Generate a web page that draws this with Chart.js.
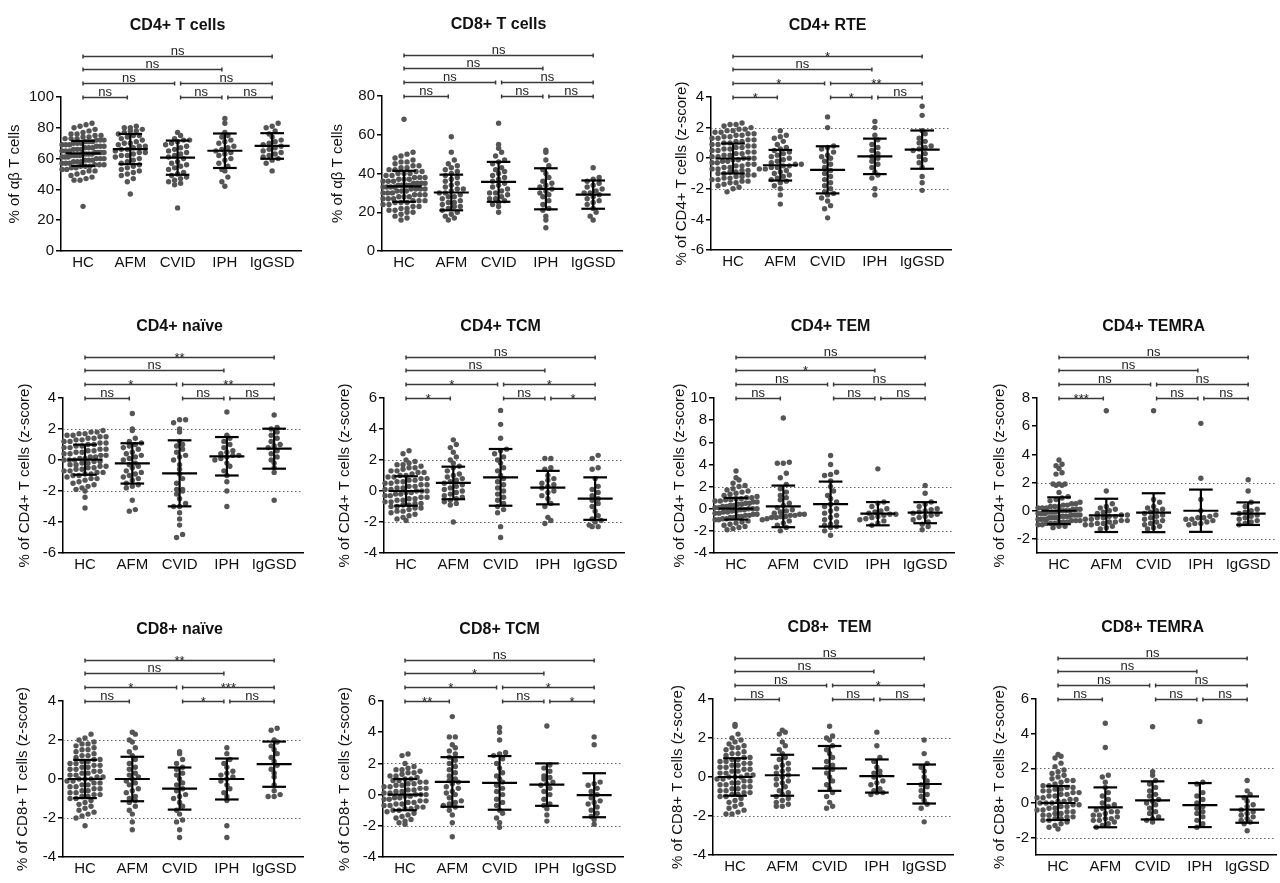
<!DOCTYPE html>
<html>
<head>
<meta charset="utf-8">
<script src="https://cdn.jsdelivr.net/npm/chart.js@4.4.1/dist/chart.umd.min.js"></script>
<style>
html, body { margin: 0; padding: 0; background: #fff; }
#fig { position: relative; width: 1280px; height: 883px; overflow: hidden; background: #fff; }
#fig canvas { position: absolute; }
</style>
</head>
<body>
<div id="fig"></div>
<script>
// groups and comparison brackets (same layout in every panel)
const GROUPS = ['HC', 'AFM', 'CVID', 'IPH', 'IgGSD'];
const PAIRS = [[0, 4], [0, 3], [0, 2], [2, 4], [0, 1], [2, 3], [3, 4]];
const PAIR_LEVEL = [0, 1, 2, 2, 3, 3, 3];
const ZREF = [-2, 2];

// ---- CD4+ T cells (% of ab T cells)
const cd4T_ticks = [0, 20, 40, 60, 80, 100];
const cd4T_HC = [83,82,81,80,79,78,77,76,76,75,75,74,74,73,73,73,72,72,72,71,71,71,70,70,70,69,69,69,68,68,68,67,67,67,66,66,66,65,65,65,64,64,64,64,63,63,63,63,62,62,62,62,61,61,61,60,60,60,59,59,59,58,58,58,57,57,57,56,56,56,55,55,55,54,54,53,53,52,52,51,50,49,48,47,46,46,29];
const cd4T_AFM = [81,80,80,79,78,78,77,76,75,75,74,73,72,71,70,70,69,68,68,67,66,66,65,64,64,63,62,62,61,60,59,58,57,56,55,54,53,52,51,50,49,47,45,37];
const cd4T_CVID = [77,75,73,72,72,71,70,69,68,67,66,65,64,63,62,61,60,58,57,56,55,54,53,51,50,49,48,47,46,45,44,43,28];
const cd4T_IPH = [86,83,77,75,74,72,71,70,68,67,66,65,64,63,62,60,59,57,55,53,52,48,45,42];
const cd4T_IgGSD = [83,81,80,78,76,74,72,71,70,69,68,67,66,65,64,63,62,61,60,59,57,52];
const cd4T_mean = [63.4, 66.2, 60.6, 65.1, 68.2];
const cd4T_sd = [8.1, 9.8, 11.1, 11.2, 8.3];
const cd4T_sig = ['ns', 'ns', 'ns', 'ns', 'ns', 'ns', 'ns'];

// ---- CD8+ T cells (% of ab T cells)
const cd8T_ticks = [0, 20, 40, 60, 80];
const cd8T_HC = [68,51,50,49,48,47,46,46,45,44,44,43,43,42,42,41,41,40,40,40,39,39,38,38,38,37,37,37,36,36,36,35,35,35,35,34,34,34,34,33,33,33,33,32,32,32,32,31,31,31,30,30,30,29,29,29,28,28,28,27,27,27,26,26,26,25,25,25,24,24,23,23,22,22,21,21,20,20,19,18,17,16];
const cd8T_AFM = [59,51,47,45,44,43,42,41,40,39,38,37,36,35,34,33,32,32,31,30,30,29,28,28,27,26,25,25,24,23,23,22,21,20,19,18,17,16];
const cd8T_CVID = [66,55,53,51,49,47,46,45,43,42,41,40,39,38,37,36,35,34,33,32,31,30,30,29,28,27,27,26,25,24,23,20];
const cd8T_IPH = [52,51,47,44,42,40,38,36,35,34,33,32,31,30,29,28,26,24,22,21,18,16,12];
const cd8T_IgGSD = [43,38,37,36,35,34,33,32,31,30,30,29,28,27,26,25,24,22,20,18,16];
const cd8T_mean = [33.4, 30.2, 35.7, 32.1, 29.1];
const cd8T_sd = [8.0, 9.2, 10.3, 10.6, 7.3];
const cd8T_sig = ['ns', 'ns', 'ns', 'ns', 'ns', 'ns', 'ns'];

// ---- CD4+ RTE (z-score)
const rte_ticks = [-6, -4, -2, 0, 2, 4];
const rte_HC = [2.3,2.2,2.2,2.1,2.0,1.9,1.9,1.8,1.8,1.7,1.7,1.6,1.6,1.5,1.5,1.4,1.4,1.3,1.3,1.2,1.2,1.1,1.1,1.0,1.0,0.9,0.9,0.8,0.8,0.7,0.7,0.6,0.6,0.5,0.5,0.4,0.4,0.3,0.3,0.2,0.2,0.1,0.1,0.0,0.0,0.0,-0.1,-0.1,-0.2,-0.2,-0.3,-0.3,-0.4,-0.4,-0.5,-0.5,-0.6,-0.6,-0.7,-0.7,-0.8,-0.8,-0.9,-0.9,-1.0,-1.0,-1.1,-1.1,-1.2,-1.2,-1.3,-1.3,-1.4,-1.4,-1.5,-1.5,-1.6,-1.6,-1.7,-1.8,-1.9,-2.0,-2.2];
const rte_AFM = [1.8,1.5,1.4,1.3,1.1,0.9,0.7,0.6,0.5,0.4,0.3,0.2,0.1,0.0,-0.1,-0.2,-0.3,-0.4,-0.4,-0.5,-0.5,-0.6,-0.6,-0.7,-0.7,-0.8,-0.9,-1.0,-1.1,-1.2,-1.3,-1.4,-1.5,-1.6,-1.8,-2.0,-2.4,-3.0];
const rte_CVID = [2.7,2.0,0.8,0.7,0.6,0.4,0.2,0.1,0.0,-0.2,-0.4,-0.6,-0.8,-1.0,-1.2,-1.4,-1.6,-1.8,-2.0,-2.2,-2.3,-2.4,-2.6,-2.8,-3.1,-3.3,-3.9];
const rte_IPH = [2.4,2.0,1.5,1.2,0.9,0.7,0.5,0.3,0.1,0.0,-0.2,-0.4,-0.6,-0.9,-1.1,-1.3,-2.0,-2.4];
const rte_IgGSD = [3.4,2.8,1.8,1.6,1.3,1.1,1.0,0.8,0.7,0.6,0.5,0.3,0.1,-0.1,-0.3,-0.6,-1.2,-1.6,-2.1];
const rte_mean = [-0.02, -0.46, -0.76, 0.12, 0.56];
const rte_sd = [0.98, 1.0, 1.54, 1.16, 1.25];
const rte_sig = ['*', 'ns', '*', '**', '*', '*', 'ns'];

// ---- CD4+ naive (z-score)
const cd4N_ticks = [-6, -4, -2, 0, 2, 4];
const cd4N_HC = [1.9,1.8,1.8,1.7,1.7,1.6,1.6,1.5,1.5,1.4,1.4,1.3,1.3,1.2,1.2,1.1,1.1,1.0,1.0,0.9,0.9,0.8,0.8,0.7,0.7,0.6,0.6,0.5,0.5,0.4,0.4,0.3,0.3,0.2,0.2,0.1,0.1,0.0,0.0,0.0,-0.1,-0.1,-0.2,-0.2,-0.3,-0.3,-0.4,-0.4,-0.5,-0.5,-0.6,-0.6,-0.7,-0.7,-0.8,-0.8,-0.9,-0.9,-1.0,-1.0,-1.1,-1.2,-1.2,-1.3,-1.4,-1.5,-1.6,-1.7,-1.8,-1.9,-2.0,-2.4,-3.1];
const cd4N_AFM = [3.0,2.0,1.9,1.4,1.2,1.1,1.0,0.9,0.8,0.7,0.5,0.4,0.3,0.2,0.1,0.0,-0.2,-0.3,-0.4,-0.5,-0.7,-0.8,-0.9,-1.0,-1.1,-1.2,-1.3,-1.5,-1.6,-1.7,-1.8,-2.6,-3.2,-3.3];
const cd4N_CVID = [2.6,2.6,2.4,2.0,1.8,1.2,1.0,0.9,0.7,0.5,0.3,0.2,0.0,-0.3,-0.6,-0.9,-1.2,-1.5,-1.9,-1.9,-2.0,-2.2,-2.5,-2.8,-3.0,-3.0,-3.4,-3.8,-4.2,-4.8,-5.0];
const cd4N_IPH = [3.1,1.6,1.4,1.2,1.0,0.8,0.6,0.5,0.4,0.3,0.3,0.2,0.1,0.0,-0.2,-0.4,-0.7,-1.0,-1.4,-2.0,-3.0];
const cd4N_IgGSD = [2.9,2.1,2.0,1.8,1.6,1.4,1.2,1.0,0.9,0.8,0.6,0.4,0.2,0.0,-0.2,-0.5,-0.8,-2.6];
const cd4N_mean = [0.02, -0.22, -0.86, 0.24, 0.73];
const cd4N_sd = [0.97, 1.3, 2.13, 1.24, 1.29];
const cd4N_sig = ['**', 'ns', '*', '**', 'ns', 'ns', 'ns'];

// ---- CD4+ TCM (z-score)
const cd4CM_ticks = [-4, -2, 0, 2, 4, 6];
const cd4CM_HC = [2.6,2.4,2.0,1.9,1.8,1.7,1.7,1.6,1.5,1.5,1.4,1.3,1.3,1.2,1.2,1.1,1.0,1.0,0.9,0.9,0.8,0.8,0.7,0.7,0.6,0.6,0.5,0.5,0.4,0.4,0.3,0.3,0.2,0.2,0.1,0.1,0.0,0.0,0.0,-0.1,-0.1,-0.2,-0.2,-0.3,-0.3,-0.4,-0.4,-0.5,-0.5,-0.6,-0.6,-0.7,-0.7,-0.8,-0.8,-0.9,-0.9,-1.0,-1.0,-1.1,-1.1,-1.2,-1.3,-1.3,-1.4,-1.5,-1.6,-1.7,-1.8,-1.9];
const cd4CM_AFM = [3.3,3.0,2.8,2.5,2.2,2.0,1.8,1.6,1.5,1.3,1.1,1.0,0.9,0.8,0.7,0.6,0.5,0.4,0.3,0.2,0.1,0.0,-0.1,-0.2,-0.3,-0.4,-0.5,-0.6,-0.7,-0.8,-0.9,-2.0];
const cd4CM_CVID = [5.2,4.3,3.4,2.7,2.6,2.4,2.2,2.0,1.8,1.5,1.3,1.0,0.8,0.6,0.4,0.2,0.0,-0.2,-0.4,-0.6,-0.8,-1.0,-1.2,-1.4,-2.3,-3.0];
const cd4CM_IPH = [2.1,2.1,1.5,1.4,1.0,0.8,0.7,0.5,0.4,0.3,0.2,0.0,-0.1,-0.3,-0.5,-0.8,-1.0,-1.7,-1.9,-2.1];
const cd4CM_IgGSD = [2.3,2.1,1.5,1.4,0.8,0.3,0.1,-0.1,-0.3,-0.5,-0.6,-0.8,-1.0,-1.3,-1.6,-1.8,-1.9,-2.0,-2.2,-2.3,-2.3];
const cd4CM_mean = [0.0, 0.52, 0.88, 0.22, -0.49];
const cd4CM_sd = [0.95, 1.05, 1.83, 1.08, 1.37];
const cd4CM_sig = ['ns', 'ns', '*', '*', '*', 'ns', '*'];

// ---- CD4+ TEM (z-score)
const cd4EM_ticks = [-4, -2, 0, 2, 4, 6, 8, 10];
const cd4EM_HC = [3.4,2.8,2.6,2.3,2.1,2.0,1.8,1.7,1.6,1.5,1.4,1.3,1.2,1.1,1.0,1.0,0.9,0.9,0.8,0.8,0.7,0.7,0.6,0.6,0.5,0.5,0.4,0.4,0.3,0.3,0.2,0.2,0.1,0.1,0.0,0.0,0.0,-0.1,-0.1,-0.2,-0.2,-0.3,-0.3,-0.4,-0.4,-0.5,-0.5,-0.6,-0.6,-0.7,-0.7,-0.8,-0.8,-0.9,-0.9,-1.0,-1.0,-1.1,-1.2,-1.3,-1.4,-1.5,-1.6,-1.7,-1.8,-1.9];
const cd4EM_AFM = [8.2,4.2,4.1,4.1,3.2,2.8,2.2,1.8,1.5,1.2,1.0,0.8,0.5,0.3,0.1,-0.1,-0.2,-0.3,-0.4,-0.5,-0.5,-0.6,-0.6,-0.7,-0.7,-0.8,-0.8,-0.9,-1.0,-1.1,-1.3,-1.5,-1.7,-2.0];
const cd4EM_CVID = [4.8,4.0,3.3,3.1,3.0,2.5,2.0,1.6,1.2,0.9,0.6,0.4,0.2,0.0,-0.2,-0.4,-0.6,-0.8,-1.0,-1.2,-1.4,-1.5,-1.6,-1.7,-2.0,-2.4];
const cd4EM_IPH = [3.6,0.6,0.5,0.2,0.0,-0.2,-0.3,-0.4,-0.5,-0.5,-0.6,-0.7,-0.8,-0.9,-1.0,-1.1,-1.3,-1.5];
const cd4EM_IgGSD = [2.1,1.4,0.6,0.4,0.2,0.0,-0.1,-0.2,-0.3,-0.4,-0.5,-0.6,-0.7,-0.8,-1.0,-1.2,-1.4,-1.6,-1.9];
const cd4EM_mean = [0.0, 0.21, 0.42, -0.45, -0.36];
const cd4EM_sd = [0.98, 1.88, 2.03, 1.05, 0.95];
const cd4EM_sig = ['ns', '*', 'ns', 'ns', 'ns', 'ns', 'ns'];

// ---- CD4+ TEMRA (z-score)
const cd4RA_ticks = [-2, 0, 2, 4, 6, 8];
const cd4RA_HC = [3.6,3.3,3.2,3.0,2.7,2.6,1.9,1.9,1.9,1.8,1.8,1.3,1.0,0.9,0.8,0.7,0.6,0.5,0.5,0.4,0.4,0.3,0.3,0.3,0.2,0.2,0.2,0.1,0.1,0.1,0.0,0.0,0.0,0.0,-0.1,-0.1,-0.1,-0.2,-0.2,-0.2,-0.3,-0.3,-0.3,-0.3,-0.4,-0.4,-0.4,-0.4,-0.5,-0.5,-0.5,-0.5,-0.6,-0.6,-0.6,-0.6,-0.7,-0.7,-0.7,-0.8,-0.8,-0.8,-0.9,-0.9,-0.9,-1.0,-1.0,-1.1,-1.1,-1.2];
const cd4RA_AFM = [7.1,1.4,0.5,0.3,0.2,0.1,0.0,-0.1,-0.2,-0.3,-0.3,-0.4,-0.4,-0.5,-0.5,-0.6,-0.6,-0.7,-0.7,-0.8,-0.8,-0.9,-0.9,-1.0,-1.0,-1.1,-1.2,-1.3];
const cd4RA_CVID = [7.1,0.8,0.6,0.3,0.2,0.1,0.0,-0.1,-0.2,-0.3,-0.4,-0.5,-0.6,-0.7,-0.8,-0.9,-1.0,-1.1,-1.2,-1.3];
const cd4RA_IPH = [6.2,2.3,0.8,0.0,-0.3,-0.4,-0.5,-0.5,-0.6,-0.6,-0.7,-0.8,-0.9,-0.9,-1.0];
const cd4RA_IgGSD = [2.2,1.4,0.6,0.3,0.1,0.0,-0.1,-0.2,-0.3,-0.4,-0.5,-0.6,-0.7,-0.8,-0.9,-1.0];
const cd4RA_mean = [0.0, -0.33, -0.14, 0.0, -0.21];
const cd4RA_sd = [0.95, 1.18, 1.38, 1.5, 0.8];
const cd4RA_sig = ['ns', 'ns', 'ns', 'ns', '***', 'ns', 'ns'];

// ---- CD8+ naive (z-score)
const cd8N_ticks = [-4, -2, 0, 2, 4];
const cd8N_HC = [2.3,2.1,2.0,1.9,1.8,1.8,1.7,1.6,1.5,1.5,1.4,1.3,1.2,1.2,1.1,1.0,1.0,0.9,0.9,0.8,0.8,0.7,0.7,0.6,0.6,0.5,0.5,0.4,0.4,0.3,0.3,0.2,0.2,0.1,0.1,0.0,0.0,0.0,-0.1,-0.1,-0.2,-0.2,-0.3,-0.3,-0.4,-0.4,-0.5,-0.5,-0.6,-0.6,-0.7,-0.7,-0.8,-0.8,-0.9,-0.9,-1.0,-1.0,-1.1,-1.2,-1.3,-1.4,-1.5,-1.6,-1.7,-1.8,-1.9,-2.0,-2.4];
const cd8N_AFM = [2.4,2.3,2.0,1.9,1.6,1.4,1.2,1.0,0.8,0.6,0.5,0.3,0.2,0.1,0.0,-0.1,-0.2,-0.3,-0.5,-0.6,-0.7,-0.9,-1.0,-1.1,-1.2,-1.4,-1.6,-1.8,-2.2,-2.6];
const cd8N_CVID = [1.4,1.3,1.0,0.8,0.6,0.5,0.3,0.2,0.0,-0.2,-0.3,-0.5,-0.6,-0.8,-0.9,-1.0,-1.2,-1.4,-1.6,-1.8,-2.1,-2.2,-2.6,-3.0];
const cd8N_IPH = [1.6,1.3,1.0,0.8,0.6,0.4,0.3,0.2,0.1,0.0,-0.1,-0.3,-0.5,-0.7,-0.9,-1.1,-2.4,-3.0];
const cd8N_IgGSD = [2.6,2.5,2.0,1.9,1.7,1.5,1.3,1.1,0.9,0.7,0.5,0.3,0.1,-0.3,-0.6,-0.8,-0.9,-0.9];
const cd8N_mean = [0.0, 0.0, -0.49, 0.0, 0.76];
const cd8N_sd = [0.98, 1.14, 1.08, 1.05, 1.16];
const cd8N_sig = ['**', 'ns', '*', '***', 'ns', '*', 'ns'];

// ---- CD8+ TCM (z-score)
const cd8CM_ticks = [-4, -2, 0, 2, 4, 6];
const cd8CM_HC = [2.6,2.5,2.0,1.8,1.7,1.6,1.6,1.5,1.4,1.4,1.3,1.2,1.2,1.1,1.0,1.0,0.9,0.9,0.8,0.8,0.7,0.7,0.6,0.6,0.5,0.5,0.4,0.4,0.3,0.3,0.2,0.2,0.1,0.1,0.0,0.0,0.0,-0.1,-0.1,-0.2,-0.2,-0.3,-0.3,-0.4,-0.4,-0.5,-0.5,-0.6,-0.6,-0.7,-0.7,-0.8,-0.8,-0.9,-0.9,-1.0,-1.0,-1.1,-1.2,-1.3,-1.4,-1.5,-1.6,-1.7,-1.8,-1.9];
const cd8CM_AFM = [5.0,3.7,3.7,3.2,3.0,2.8,2.6,2.4,2.2,2.0,1.8,1.6,1.4,1.2,1.0,0.9,0.8,0.7,0.5,0.4,0.2,0.1,0.0,-0.2,-0.4,-0.5,-0.6,-0.7,-0.8,-1.0,-1.3,-1.8,-2.7];
const cd8CM_CVID = [4.3,4.0,3.5,2.7,2.6,2.5,2.3,2.0,1.7,1.4,1.2,1.0,0.8,0.6,0.4,0.2,0.0,-0.3,-0.5,-0.7,-1.0,-1.2,-1.5,-1.8,-2.1];
const cd8CM_IPH = [4.4,1.9,1.7,1.5,1.2,1.1,1.0,0.8,0.7,0.6,0.4,0.2,0.0,-0.3,-0.6,-0.7,-0.9,-1.3,-1.7];
const cd8CM_IgGSD = [3.7,3.2,0.8,0.7,0.6,0.4,0.2,0.0,-0.2,-0.4,-0.5,-0.6,-0.8,-1.0,-1.2,-1.4,-1.6,-1.9];
const cd8CM_mean = [0.0, 0.81, 0.75, 0.64, -0.04];
const cd8CM_sd = [1.0, 1.59, 1.72, 1.36, 1.41];
const cd8CM_sig = ['ns', '*', '*', '*', '**', 'ns', '*'];

// ---- CD8+ TEM (z-score)
const cd8EM_ticks = [-4, -2, 0, 2, 4];
const cd8EM_HC = [2.7,2.6,2.2,2.0,1.9,1.8,1.7,1.6,1.5,1.5,1.4,1.3,1.2,1.2,1.1,1.0,1.0,0.9,0.9,0.8,0.8,0.7,0.7,0.6,0.6,0.5,0.5,0.4,0.4,0.3,0.3,0.2,0.2,0.1,0.1,0.0,0.0,0.0,-0.1,-0.1,-0.2,-0.2,-0.3,-0.3,-0.4,-0.4,-0.5,-0.5,-0.6,-0.6,-0.7,-0.7,-0.8,-0.8,-0.9,-0.9,-1.0,-1.0,-1.1,-1.2,-1.3,-1.4,-1.5,-1.6,-1.7,-1.8,-1.9,-1.9];
const cd8EM_AFM = [2.4,2.3,2.2,1.8,1.6,1.4,1.2,1.0,0.9,0.7,0.6,0.5,0.4,0.3,0.2,0.1,0.0,-0.1,-0.2,-0.3,-0.4,-0.5,-0.7,-0.8,-0.9,-1.0,-1.1,-1.2,-1.3,-1.4,-1.5,-1.5];
const cd8EM_CVID = [2.6,2.1,2.0,1.9,1.6,1.4,1.2,1.0,0.8,0.6,0.5,0.4,0.2,0.0,-0.2,-0.4,-0.6,-0.8,-1.0,-1.3,-1.5,-1.6];
const cd8EM_IPH = [2.3,1.6,1.0,0.8,0.5,0.3,0.2,0.1,0.0,-0.2,-0.3,-0.4,-0.6,-0.7,-0.8,-0.8,-0.9];
const cd8EM_IgGSD = [1.9,1.2,0.7,0.5,0.3,0.0,-0.2,-0.4,-0.5,-0.7,-0.9,-1.0,-1.2,-1.4,-1.6,-2.3];
const cd8EM_mean = [0.0, 0.09, 0.44, 0.05, -0.36];
const cd8EM_sd = [0.96, 1.05, 1.15, 0.85, 1.0];
const cd8EM_sig = ['ns', 'ns', 'ns', '*', 'ns', 'ns', 'ns'];

// ---- CD8+ TEMRA (z-score)
const cd8RA_ticks = [-2, 0, 2, 4, 6];
const cd8RA_HC = [2.8,2.7,2.6,2.3,2.1,1.9,1.8,1.7,1.6,1.5,1.4,1.3,1.3,1.2,1.1,1.0,1.0,0.9,0.9,0.8,0.8,0.7,0.7,0.6,0.6,0.5,0.5,0.4,0.4,0.3,0.3,0.2,0.2,0.1,0.1,0.0,0.0,0.0,-0.1,-0.1,-0.2,-0.2,-0.3,-0.3,-0.4,-0.4,-0.5,-0.5,-0.6,-0.6,-0.7,-0.7,-0.8,-0.8,-0.9,-0.9,-1.0,-1.0,-1.1,-1.2,-1.3,-1.4,-1.5];
const cd8RA_AFM = [4.6,3.2,1.6,1.5,1.2,0.9,0.6,0.4,0.2,0.0,-0.1,-0.2,-0.3,-0.4,-0.5,-0.5,-0.6,-0.7,-0.7,-0.8,-0.9,-0.9,-1.0,-1.0,-1.1,-1.2,-1.3,-1.4];
const cd8RA_CVID = [4.4,1.8,1.6,1.3,1.1,0.9,0.7,0.5,0.4,0.2,0.1,0.0,-0.1,-0.3,-0.5,-0.6,-0.8,-0.9,-1.0,-1.1];
const cd8RA_IPH = [4.7,1.2,1.1,0.6,0.4,0.2,0.0,-0.2,-0.3,-0.5,-0.6,-0.8,-1.0,-1.2,-1.4];
const cd8RA_IgGSD = [1.3,0.7,0.5,0.3,0.1,-0.1,-0.2,-0.4,-0.5,-0.6,-0.7,-0.8,-0.9,-1.0,-1.1,-1.2,-1.6];
const cd8RA_mean = [0.0, -0.25, 0.15, -0.12, -0.38];
const cd8RA_sd = [0.98, 1.15, 1.1, 1.27, 0.76];
const cd8RA_sig = ['ns', 'ns', 'ns', 'ns', 'ns', 'ns', 'ns'];

const Z_TITLE4 = '% of CD4+ T cells (z-score)';
const Z_TITLE8 = '% of CD8+ T cells (z-score)';

// panel placement (pixels on the page)
const PANELS = [
  { title: 'CD4+ T cells', yTitle: '% of \u03b1\u03b2 T cells', min: 0, max: 100, ticks: cd4T_ticks, refs: [],
    groups: [cd4T_HC, cd4T_AFM, cd4T_CVID, cd4T_IPH, cd4T_IgGSD], mean: cd4T_mean, sd: cd4T_sd, sig: cd4T_sig,
    axisX: 61, top: 97, bottom: 251, titleX: 15 },
  { title: 'CD8+ T cells', yTitle: '% of \u03b1\u03b2 T cells', min: 0, max: 80, ticks: cd8T_ticks, refs: [],
    groups: [cd8T_HC, cd8T_AFM, cd8T_CVID, cd8T_IPH, cd8T_IgGSD], mean: cd8T_mean, sd: cd8T_sd, sig: cd8T_sig,
    axisX: 382, top: 96, bottom: 251, titleX: 338 },
  { title: 'CD4+ RTE', yTitle: Z_TITLE4, min: -6, max: 4, ticks: rte_ticks, refs: ZREF,
    groups: [rte_HC, rte_AFM, rte_CVID, rte_IPH, rte_IgGSD], mean: rte_mean, sd: rte_sd, sig: rte_sig,
    axisX: 711, top: 97, bottom: 250, titleX: 682 },
  { title: 'CD4+ na\u00efve', yTitle: Z_TITLE4, min: -6, max: 4, ticks: cd4N_ticks, refs: ZREF,
    groups: [cd4N_HC, cd4N_AFM, cd4N_CVID, cd4N_IPH, cd4N_IgGSD], mean: cd4N_mean, sd: cd4N_sd, sig: cd4N_sig,
    axisX: 63, top: 398, bottom: 553, titleX: 25 },
  { title: 'CD4+ TCM', yTitle: Z_TITLE4, min: -4, max: 6, ticks: cd4CM_ticks, refs: ZREF,
    groups: [cd4CM_HC, cd4CM_AFM, cd4CM_CVID, cd4CM_IPH, cd4CM_IgGSD], mean: cd4CM_mean, sd: cd4CM_sd, sig: cd4CM_sig,
    axisX: 384, top: 398, bottom: 553, titleX: 345 },
  { title: 'CD4+ TEM', yTitle: Z_TITLE4, min: -4, max: 10, ticks: cd4EM_ticks, refs: ZREF,
    groups: [cd4EM_HC, cd4EM_AFM, cd4EM_CVID, cd4EM_IPH, cd4EM_IgGSD], mean: cd4EM_mean, sd: cd4EM_sd, sig: cd4EM_sig,
    axisX: 714, top: 398, bottom: 553, titleX: 680 },
  { title: 'CD4+ TEMRA', yTitle: Z_TITLE4, min: -3, max: 8, ticks: cd4RA_ticks, refs: ZREF,
    groups: [cd4RA_HC, cd4RA_AFM, cd4RA_CVID, cd4RA_IPH, cd4RA_IgGSD], mean: cd4RA_mean, sd: cd4RA_sd, sig: cd4RA_sig,
    axisX: 1037, top: 398, bottom: 553, titleX: 1000 },
  { title: 'CD8+ na\u00efve', yTitle: Z_TITLE8, min: -4, max: 4, ticks: cd8N_ticks, refs: ZREF,
    groups: [cd8N_HC, cd8N_AFM, cd8N_CVID, cd8N_IPH, cd8N_IgGSD], mean: cd8N_mean, sd: cd8N_sd, sig: cd8N_sig,
    axisX: 63, top: 701, bottom: 857, titleX: 23 },
  { title: 'CD8+ TCM', yTitle: Z_TITLE8, min: -4, max: 6, ticks: cd8CM_ticks, refs: ZREF,
    groups: [cd8CM_HC, cd8CM_AFM, cd8CM_CVID, cd8CM_IPH, cd8CM_IgGSD], mean: cd8CM_mean, sd: cd8CM_sd, sig: cd8CM_sig,
    axisX: 383, top: 701, bottom: 857, titleX: 345 },
  { title: 'CD8+  TEM', yTitle: Z_TITLE8, min: -4, max: 4, ticks: cd8EM_ticks, refs: ZREF,
    groups: [cd8EM_HC, cd8EM_AFM, cd8EM_CVID, cd8EM_IPH, cd8EM_IgGSD], mean: cd8EM_mean, sd: cd8EM_sd, sig: cd8EM_sig,
    axisX: 713, top: 699, bottom: 855, titleX: 678 },
  { title: 'CD8+ TEMRA', yTitle: Z_TITLE8, min: -3, max: 6, ticks: cd8RA_ticks, refs: ZREF,
    groups: [cd8RA_HC, cd8RA_AFM, cd8RA_CVID, cd8RA_IPH, cd8RA_IgGSD], mean: cd8RA_mean, sd: cd8RA_sd, sig: cd8RA_sig,
    axisX: 1036, top: 699, bottom: 855, titleX: 1000 }
];

const FONT = '"Liberation Sans", Arial, Helvetica, sans-serif';
Chart.defaults.font.family = FONT;

const X_MIN = -0.466, X_MAX = 4.61;
const PLOT_W = 240;
const CAT_PX = PLOT_W / (X_MAX - X_MIN);
const HEAD = 97;            // room above the plot for title + brackets
const X_AXIS_H = 30;
const DOT_COLOR = '#555555';
const DOT_R = 2.7;
const ROW_PX = 6;           // swarm row height
const DOT_STEP = 6;         // horizontal spacing of dots in a row
const SWARM_MAX = 42;       // max swarm width in px
const MEAN_HALF = 0.37, CAP_HALF = 0.25;
const BRACKET_OFF = [-41, -28, -14, 0];

// simple scatter-dot layout: dots with close values sit side by side
function swarm(vals, gi, p) {
  const pxPerUnit = (p.bottom - p.top) / (p.max - p.min);
  const rows = new Map();
  vals.slice().sort((a, b) => a - b).forEach(v => {
    const k = Math.round((v - p.min) * pxPerUnit / ROW_PX);
    if (!rows.has(k)) rows.set(k, []);
    rows.get(k).push(v);
  });
  const out = [];
  rows.forEach(list => {
    const n = list.length;
    const step = n > 1 ? Math.min(DOT_STEP, SWARM_MAX / (n - 1)) : 0;
    list.forEach((v, j) => {
      out.push({ x: gi + (j - (n - 1) / 2) * step / CAT_PX, y: v });
    });
  });
  return out;
}

function seg(ctx, x1, y1, x2, y2) {
  ctx.beginPath();
  ctx.moveTo(x1, y1);
  ctx.lineTo(x2, y2);
  ctx.stroke();
}

function decor(p) {
  return {
    id: 'decor',
    beforeDatasetsDraw(chart) {
      const { ctx, chartArea: a, scales: { y } } = chart;
      ctx.save();
      ctx.strokeStyle = '#666';
      ctx.lineWidth = 1;
      ctx.setLineDash([1.5, 2.5]);
      p.refs.forEach(v => {
        const py = Math.round(y.getPixelForValue(v)) + 0.5;
        seg(ctx, a.left, py, a.right, py);
      });
      ctx.restore();
    },
    afterDatasetsDraw(chart) {
      const { ctx, scales: { x, y } } = chart;
      ctx.save();
      ctx.strokeStyle = '#000';
      ctx.lineWidth = 2.2;
      p.mean.forEach((m, i) => {
        const s = p.sd[i];
        const ym = y.getPixelForValue(m);
        const yt = y.getPixelForValue(m + s);
        const yb = y.getPixelForValue(m - s);
        const xc = x.getPixelForValue(i);
        seg(ctx, x.getPixelForValue(i - MEAN_HALF), ym, x.getPixelForValue(i + MEAN_HALF), ym);
        seg(ctx, xc, yt, xc, yb);
        seg(ctx, x.getPixelForValue(i - CAP_HALF), yt, x.getPixelForValue(i + CAP_HALF), yt);
        seg(ctx, x.getPixelForValue(i - CAP_HALF), yb, x.getPixelForValue(i + CAP_HALF), yb);
      });
      ctx.restore();
    },
    afterDraw(chart) {
      const { ctx, chartArea: a, scales: { x } } = chart;
      ctx.save();
      // significance brackets
      ctx.strokeStyle = '#3a3a3a';
      ctx.fillStyle = '#222';
      ctx.lineWidth = 1.5;
      ctx.textAlign = 'center';
      PAIRS.forEach((pr, k) => {
        const yy = Math.round(a.top + BRACKET_OFF[PAIR_LEVEL[k]]) + 0.5;
        const x1 = x.getPixelForValue(pr[0]) + (pr[0] === 0 ? 0 : 3);
        const x2 = x.getPixelForValue(pr[1]) - (pr[1] === 4 ? 0 : 3);
        seg(ctx, x1, yy, x2, yy);
        seg(ctx, x1, yy - 2, x1, yy + 2);
        seg(ctx, x2, yy - 2, x2, yy + 2);
        const lab = p.sig[k];
        ctx.font = '13px ' + FONT;
        ctx.textBaseline = 'alphabetic';
        ctx.fillText(lab, (x1 + x2) / 2, lab === 'ns' ? yy - 2 : yy + 4);
      });
      // panel title
      ctx.fillStyle = '#111';
      ctx.font = 'bold 16px ' + FONT;
      ctx.textBaseline = 'middle';
      ctx.fillText(p.title, x.getPixelForValue(2), a.top - 71);
      ctx.restore();
    }
  };
}

const fig = document.getElementById('fig');

PANELS.forEach(p => {
  const left = p.titleX - 10;
  const yw = p.axisX - left;
  const w = yw + PLOT_W + 12;
  const h = HEAD + (p.bottom - p.top) + X_AXIS_H;
  const cv = document.createElement('canvas');
  cv.width = w;
  cv.height = h;
  cv.style.left = left + 'px';
  cv.style.top = (p.top - HEAD) + 'px';
  cv.style.width = w + 'px';
  cv.style.height = h + 'px';
  fig.appendChild(cv);

  new Chart(cv.getContext('2d'), {
    type: 'scatter',
    data: {
      datasets: p.groups.map((vals, gi) => ({
        label: GROUPS[gi],
        data: swarm(vals, gi, p),
        pointRadius: DOT_R,
        pointHoverRadius: DOT_R,
        pointBackgroundColor: DOT_COLOR,
        pointBorderWidth: 0,
        clip: false
      }))
    },
    options: {
      responsive: false,
      animation: false,
      devicePixelRatio: 1,
      events: [],
      layout: { padding: { top: HEAD, right: 12, left: 0, bottom: 0 } },
      plugins: {
        legend: { display: false },
        tooltip: { enabled: false },
        title: { display: false }
      },
      scales: {
        x: {
          type: 'linear',
          min: X_MIN,
          max: X_MAX,
          afterBuildTicks(scale) {
            scale.ticks = GROUPS.map((g, i) => ({ value: i }));
          },
          ticks: {
            callback: v => GROUPS[v],
            color: '#111',
            font: { size: 15 },
            padding: 3,
            maxRotation: 0,
            autoSkip: false
          },
          grid: { display: false, drawTicks: false },
          border: { display: true, color: '#000', width: 1.5 },
          afterFit(scale) { scale.height = X_AXIS_H; }
        },
        y: {
          min: p.min,
          max: p.max,
          afterBuildTicks(scale) {
            scale.ticks = p.ticks.map(v => ({ value: v }));
          },
          ticks: { color: '#111', font: { size: 15 }, padding: 2, autoSkip: false },
          grid: { drawOnChartArea: false, drawTicks: true, tickLength: 5, color: '#000', lineWidth: 1.5 },
          border: { display: true, color: '#000', width: 1.5 },
          title: {
            display: true,
            text: p.yTitle,
            color: '#111',
            font: { size: 15 },
            padding: { top: 1, bottom: 0 }
          },
          afterFit(scale) { scale.width = yw; }
        }
      }
    },
    plugins: [decor(p)]
  });
});
</script>
</body>
</html>
